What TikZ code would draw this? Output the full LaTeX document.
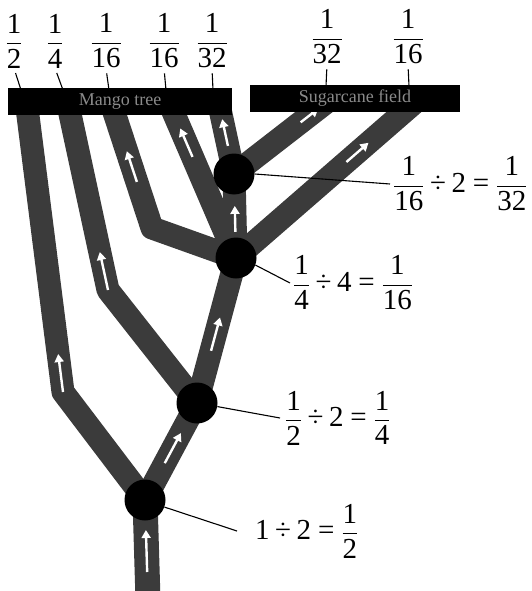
\documentclass[tikz,border=0pt]{standalone}
\usepackage{amsmath}
\usepackage{fontspec}
\setmainfont{Liberation Serif}
\usetikzlibrary{arrows.meta,calc}
\definecolor{branchgray}{HTML}{3B3B3B}
\definecolor{bartext}{HTML}{8A8A8A}
\tikzset{
  branch/.style={draw=branchgray, line width=23pt, line join=round, line cap=butt},
  knot/.style={circle, fill=black, minimum size=41pt, inner sep=0pt},
  barbox/.style={fill=black, inner sep=0pt, text=bartext, font=\fontsize{18}{20}\selectfont},
  flowarrow/.style={draw=white, line width=2.4pt, -{Triangle[length=8pt,width=9pt]}},
  fraclabel/.style={font=\fontsize{29}{33}\selectfont, inner sep=0pt},
  eqlabel/.style={font=\fontsize{29}{33}\selectfont, inner sep=0pt, anchor=west},
  leader/.style={draw=black, line width=1.1pt},
}
\newcommand{\flow}[4]{\draw[flowarrow] ($(#1)!#3!(#2)$) -- ($(#1)!#4!(#2)$);}
\newcommand{\tfr}[2]{\genfrac{}{}{1.5pt}{0}{\text{#1}}{\text{#2}}}
\newcommand{\tdiv}{\mathbin{\text{÷}}}
\newcommand{\teq}{\mathrel{\text{=}}}
\newcommand{\tn}[1]{\text{#1}}
\begin{document}
\begin{tikzpicture}[x=1pt,y=-1pt]
\useasboundingbox (0,0) rectangle (531,591);
% junctions
\coordinate (t0) at (148,600);
\coordinate (p1) at (145,500);
\coordinate (p2) at (197,403);
\coordinate (p3) at (236,258);
\coordinate (p4) at (234,174);
% branch ends and bends
\coordinate (b1top) at (26,100);
\coordinate (b1bend) at (63,392);
\coordinate (b2top) at (67,100);
\coordinate (b2bend) at (108,290);
\coordinate (b3top) at (110,100);
\coordinate (b3bend) at (152,228);
\coordinate (b4top) at (168,100);
\coordinate (b5top) at (218,100);
\coordinate (b6top) at (332,98);
\coordinate (b7top) at (420,98);
% branches
\draw[branch, line width=25pt] (t0) -- (p1);
\draw[branch] (p1) -- (b1bend) -- (b1top);
\draw[branch] (p1) -- (p2);
\draw[branch] (p2) -- (b2bend) -- (b2top);
\draw[branch] (p2) -- (p3);
\draw[branch] (p3) -- (b3bend) -- (b3top);
\draw[branch] (p3) -- (b4top);
\draw[branch] (p3) -- (p4);
\draw[branch] (p4) -- (b5top);
\draw[branch] (p4) -- (b6top);
\draw[branch] (p3) -- (b7top);
% flow arrows
\flow{t0}{p1}{0.28}{0.7}
\flow{b1bend}{b1top}{0.0}{0.13}
\flow{p1}{p2}{0.38}{0.69}
\flow{b2bend}{b2top}{0.0}{0.2}
\flow{p2}{p3}{0.36}{0.59}
\flow{p3}{p4}{0.31}{0.62}
\flow{b3bend}{b3top}{0.36}{0.6}
\flow{p3}{b4top}{0.64}{0.82}
\flow{p4}{b5top}{0.38}{0.74}
\flow{p4}{b6top}{0.68}{0.86}
\flow{p3}{b7top}{0.6}{0.72}
% bars
\node[barbox, minimum width=224pt, minimum height=27pt] (mango) at (120,101.5) {Mango tree};
\node[barbox, minimum width=210pt, minimum height=27pt] (cane) at (355,98.5) {Sugarcane field};
% knots
\node[knot] (n1) at (p1) {};
\node[knot] (n2) at (p2) {};
\node[knot] (n3) at (p3) {};
\node[knot] (n4) at (p4) {};
% top fraction labels
\node[fraclabel] (f1) at (14,41) {$\tfr{1}{2}$};
\node[fraclabel] (f2) at (55,41) {$\tfr{1}{4}$};
\node[fraclabel] (f3) at (106,41) {$\tfr{1}{16}$};
\node[fraclabel] (f4) at (164,41) {$\tfr{1}{16}$};
\node[fraclabel] (f5) at (212,41) {$\tfr{1}{32}$};
\node[fraclabel] (f6) at (327,37) {$\tfr{1}{32}$};
\node[fraclabel] (f7) at (408,37) {$\tfr{1}{16}$};
\coordinate (m1) at (21,90);
\coordinate (m2) at (63,90);
\coordinate (m3) at (109,90);
\coordinate (m4) at (166,90);
\coordinate (m5) at (213,90);
\coordinate (m6) at (326,86);
\coordinate (m7) at (409,86);
\draw[leader, shorten <=5pt] (f1.south) -- (m1);
\draw[leader, shorten <=5pt] (f2.south) -- (m2);
\draw[leader, shorten <=5pt] (f3.south) -- (m3);
\draw[leader, shorten <=5pt] (f4.south) -- (m4);
\draw[leader, shorten <=5pt] (f5.south) -- (m5);
\draw[leader, shorten <=5pt] (f6.south) -- (m6);
\draw[leader, shorten <=5pt] (f7.south) -- (m7);
% equation labels
\node[eqlabel] (e4) at (393,184) {$\tfr{1}{16}\tdiv\tn{2}\teq\tfr{1}{32}$};
\node[eqlabel] (e3) at (293,283) {$\tfr{1}{4}\tdiv\tn{4}\teq\tfr{1}{16}$};
\node[eqlabel] (e2) at (285,418) {$\tfr{1}{2}\tdiv\tn{2}\teq\tfr{1}{4}$};
\node[eqlabel] (e1) at (255,531) {$\tn{1}\tdiv\tn{2}\teq\tfr{1}{2}$};
\draw[leader] (n4.east) -- ([xshift=-3pt]e4.west);
\draw[leader] (n3.-20) -- ([xshift=-3pt]e3.west);
\draw[leader] (n2.-10) -- ([xshift=-5pt]e2.west);
\draw[leader] (n1.-20) -- ([xshift=-18pt]e1.west);
\end{tikzpicture}
\end{document}
